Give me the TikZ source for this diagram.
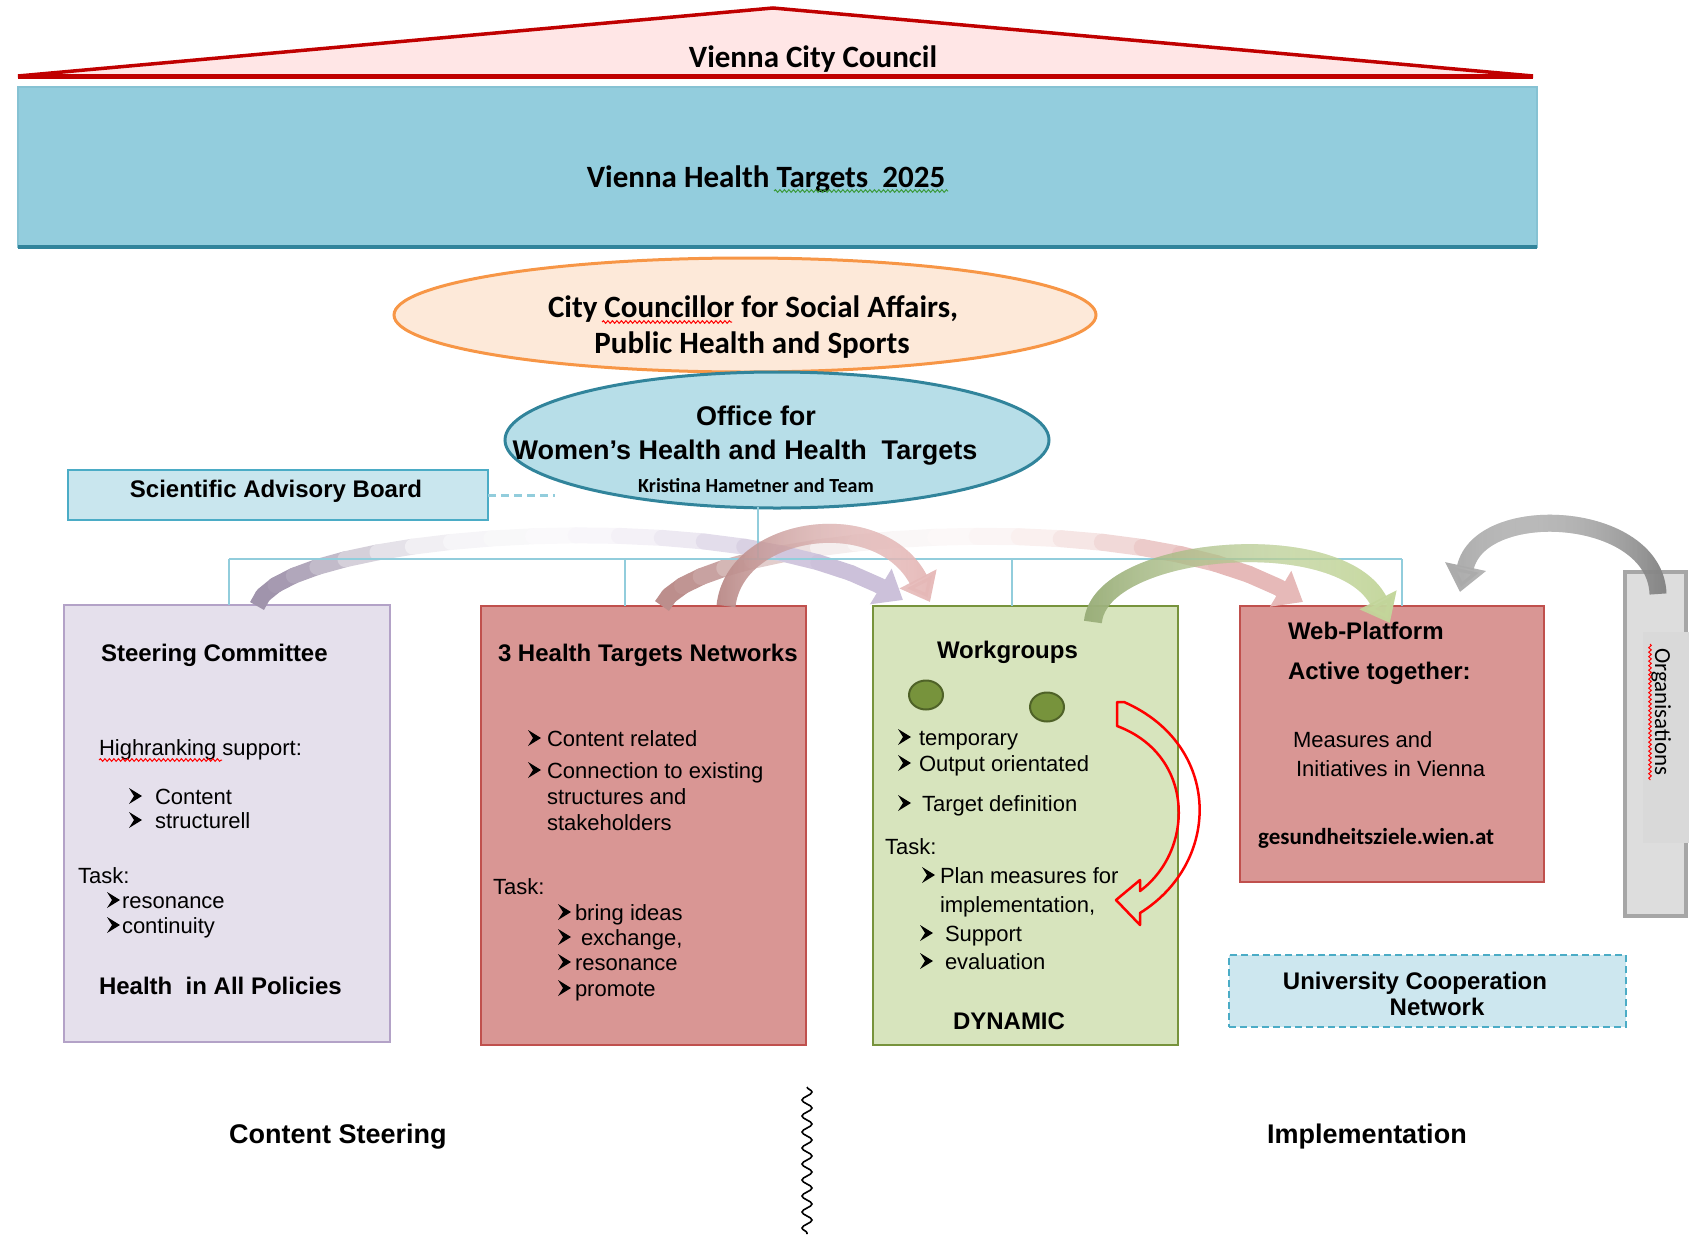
\documentclass[tikz,border=0pt]{standalone}
\usepackage{fontspec}
\setmainfont{Liberation Sans}
\newfontfamily\calfont{Carlito}
\usetikzlibrary{arrows.meta,shapes.geometric,decorations.pathmorphing,fadings}

\definecolor{roofred}{HTML}{C00000}
\definecolor{roofpink}{HTML}{FFE6E6}
\definecolor{vhtfill}{HTML}{93CDDD}
\definecolor{vhtline}{HTML}{86C2D3}
\definecolor{tealdark}{HTML}{31849B}
\definecolor{peach}{HTML}{FDE9D9}
\definecolor{orangeS}{HTML}{F79646}
\definecolor{offfill}{HTML}{B7DEE8}
\definecolor{sabfill}{HTML}{C9E6EE}
\definecolor{sabline}{HTML}{4BACC6}
\definecolor{busblue}{HTML}{92CDDC}
\definecolor{scfill}{HTML}{E5E0EC}
\definecolor{scline}{HTML}{B3A2C7}
\definecolor{htfill}{HTML}{D99694}
\definecolor{htline}{HTML}{C0504D}
\definecolor{wgfill}{HTML}{D7E4BD}
\definecolor{wgline}{HTML}{77933C}
\definecolor{dotfill}{HTML}{77933C}
\definecolor{dotline}{HTML}{4F6228}
\definecolor{ucfill}{HTML}{CDE7EF}
\definecolor{orgfill}{HTML}{DDDDDD}
\definecolor{orgline}{HTML}{A6A6A6}
\definecolor{orgpatch}{HTML}{D9D9D9}
\definecolor{purpT}{HTML}{A094AC}
\definecolor{purpH}{HTML}{CCC1DA}
\definecolor{pinkT}{HTML}{BC8E8C}
\definecolor{pinkH}{HTML}{E6B9B8}
\definecolor{greenT}{HTML}{9BAF7B}
\definecolor{greenH}{HTML}{C3D69B}
\definecolor{grayT}{HTML}{858585}
\definecolor{grayH}{HTML}{ABABAB}
\definecolor{spellgreen}{HTML}{3A9A3A}

\tikzfading[name=tailfadeB, left color=transparent!0, right color=transparent!100]
\tikzfading[name=headfadeB, left color=transparent!100, right color=transparent!0]

\newcommand{\fsR}{\fontsize{22}{26}\selectfont}
\newcommand{\fsB}{\fontsize{24}{28}\selectfont\bfseries}
\newcommand{\fsL}{\fontsize{27}{32}\selectfont\bfseries}
\newcommand{\fsC}{\calfont\fontsize{31}{37}\selectfont\bfseries}
\newcommand{\arrbul}[2]{\fill[black] ({#1},{#2-8}) -- ({#1+13},{#2}) -- ({#1},{#2+8}) -- ({#1+5},{#2}) -- cycle;}

% ribbon arrow whose colour fades out in the middle
\newcommand{\gradarc}[7]{%
  \path (#1) .. controls #2 and #3 .. (#4)
    coordinate[pos=0.05] (g1) coordinate[pos=0.10] (g2) coordinate[pos=0.15] (g3)
    coordinate[pos=0.20] (g4) coordinate[pos=0.25] (g5) coordinate[pos=0.30] (g6)
    coordinate[pos=0.35] (g7) coordinate[pos=0.40] (g8) coordinate[pos=0.45] (g9)
    coordinate[pos=0.50] (g10) coordinate[pos=0.55] (g11) coordinate[pos=0.60] (g12)
    coordinate[pos=0.65] (g13) coordinate[pos=0.70] (g14) coordinate[pos=0.75] (g15)
    coordinate[pos=0.80] (g16) coordinate[pos=0.85] (g17) coordinate[pos=0.90] (g18)
    coordinate[pos=0.95] (g19);
  \draw[line width=#7, color=#5] (#1) -- (g1);
  \foreach \k/\kn/\cc in {1/2/#5!100!white, 2/3/#5!94!white, 3/4/#5!82!white,
      4/5/#5!64!white, 5/6/#5!44!white, 6/7/#5!27!white, 7/8/#5!15!white,
      8/9/#5!9!white, 9/10/#5!7!white, 10/11/#6!10!white, 11/12/#6!14!white,
      12/13/#6!22!white, 13/14/#6!36!white, 14/15/#6!55!white, 15/16/#6!75!white,
      16/17/#6!90!white, 17/18/#6!100!white, 18/19/#6!100!white}
    {\draw[line width=#7, line cap=round, color=\cc] (g\k) -- (g\kn);}
  \draw[line width=#7, color=#6, tipA] (g19) -- (#4);
}

\begin{document}
\begin{tikzpicture}[x=1pt, y=-1pt,
  bd/.style={inner sep=0, outer sep=0, anchor=base west, font=\fsR},
  hd/.style={inner sep=0, outer sep=0, anchor=base west, font=\fsB},
  panel/.style={draw, line width=2.5, inner sep=0, outer sep=0},
  bus/.style={draw=busblue, line width=1.5},
  ribbon/.style={line width=#1},
  tipA/.style={-{Triangle[length=26pt,width=40pt]}},
  spell/.style={line width=1, decorate, decoration={snake, amplitude=1.3, segment length=4.5}},
]
\useasboundingbox (0,0) rectangle (1699,1234);

% roof
\draw[draw=roofred, fill=roofpink, line width=3.5, line join=miter] (18,76) -- (773,8) -- (1533,76) -- cycle;
\draw[roofred, line width=5] (18,76) -- (1533,76);
\node[inner sep=0, anchor=base, font=\fsC] (vcc) at (813,67) {Vienna City Council};

% big blue rectangle
\node[panel, draw=vhtline, line width=1.5, fill=vhtfill, minimum width=1519, minimum height=160] (vht) at (777.5,167) {};
\draw[tealdark, line width=4] (vht.south west) -- (vht.south east);
\node[inner sep=0, anchor=base, font=\fsC] (vhtt) at (766,187) {Vienna Health Targets\ \ 2025};
\draw[spellgreen, spell] (774,191) -- (948,191);

% councillor ellipse
\node[ellipse, draw=orangeS, fill=peach, line width=3, minimum width=702, minimum height=114, inner sep=0] (ccs) at (745,315) {};
\node[inner sep=0, anchor=base, font=\fsC] (ccs1) at (753,317) {City Councillor for Social Affairs,};
\node[inner sep=0, anchor=base, font=\fsC] (ccs2) at (752,353) {Public Health and Sports};
\draw[red, spell] (602,322) -- (732,322);

% bus lines
\coordinate (ofb) at (758,507);
\coordinate (hub) at (758,559);
\coordinate (b1) at (229,559);
\coordinate (b2) at (625,559);
\coordinate (b3) at (1012,559);
\coordinate (b4) at (1402,559);

% office ellipse
\node[ellipse, draw=tealdark, fill=offfill, line width=3, minimum width=544, minimum height=136, inner sep=0] (office) at (777,440) {};
\node[inner sep=0, anchor=base, font=\fsL] (of1) at (756,425) {Office for};
\node[inner sep=0, anchor=base, font=\fsL] (of2) at (745,459) {Women’s Health and Health\ \ Targets};
\node[inner sep=0, anchor=base, font=\calfont\fontsize{20}{24}\selectfont\bfseries] (of3) at (756,492) {Kristina Hametner and Team};

% scientific advisory board
\node[panel, draw=sabline, fill=sabfill, minimum width=420, minimum height=50] (sab) at (278,495) {};
\node[inner sep=0, anchor=base, font=\fsB] (sabT) at (276,497) {Scientific Advisory Board};
\coordinate (sabE) at (555,495);
\draw[busblue, line width=3, dash pattern=on 8pt off 5pt] (sab.east) -- (sabE);

% boxes
\node[panel, draw=scline, fill=scfill, minimum width=326, minimum height=437] (sc) at (227,823.5) {};
\node[panel, draw=htline, fill=htfill, line width=1.5, minimum width=325, minimum height=439] (ht) at (643.5,825.5) {};
\node[panel, draw=wgline, fill=wgfill, line width=1.5, minimum width=305, minimum height=439] (wg) at (1025.5,825.5) {};
\node[panel, draw=htline, fill=htfill, line width=1.5, minimum width=304, minimum height=276] (wp) at (1392,744) {};
\node[panel, draw=orgline, fill=orgfill, line width=3.5, minimum width=61, minimum height=344] (org) at (1655.5,744) {};
\fill[orgpatch] (1643,632) rectangle (1689,843);
\node[panel, draw=sabline, fill=ucfill, dash pattern=on 7pt off 4pt, minimum width=397, minimum height=72] (uc) at (1427.5,991) {};

% Steering Committee text
\node[hd] (scT) at (101,661) {Steering Committee};
\node[bd] (scH) at (99,755) {Highranking support:};
\draw[red, spell] (99,760) -- (222,760);
\arrbul{129}{796} \node[bd] (sc1) at (155,804) {Content};
\arrbul{129}{820} \node[bd] (sc2) at (155,828) {structurell};
\node[bd] (scK) at (78,883) {Task:};
\arrbul{107}{900} \node[bd] (sc3) at (122,908) {resonance};
\arrbul{107}{925} \node[bd] (sc4) at (122,933) {continuity};
\node[hd] (scP) at (99,994) {Health\ \ in All Policies};

% 3 Health Targets Networks text
\node[hd] (htT) at (498,661) {3 Health Targets Networks};
\arrbul{528}{738} \node[bd] (ht1) at (547,746) {Content related};
\arrbul{528}{770} \node[bd] (ht2) at (547,778) {Connection to existing};
\node[bd] (ht2b) at (547,804) {structures and};
\node[bd] (ht2c) at (547,830) {stakeholders};
\node[bd] (htK) at (493,894) {Task:};
\arrbul{558}{912} \node[bd] (ht3) at (575,920) {bring ideas};
\arrbul{558}{937} \node[bd] (ht4) at (581,945) {exchange,};
\arrbul{558}{962} \node[bd] (ht5) at (575,970) {resonance};
\arrbul{558}{988} \node[bd] (ht6) at (575,996) {promote};

% Workgroups text
\node[hd] (wgT) at (937,658) {Workgroups};
\node[ellipse, draw=dotline, fill=dotfill, line width=2, minimum width=34, minimum height=29, inner sep=0] (dot1) at (926,695) {};
\node[ellipse, draw=dotline, fill=dotfill, line width=2, minimum width=34, minimum height=29, inner sep=0] (dot2) at (1047,707) {};
\arrbul{898}{737} \node[bd] (wg1) at (919,745) {temporary};
\arrbul{898}{763} \node[bd] (wg2) at (919,771) {Output orientated};
\arrbul{898}{803} \node[bd] (wg3) at (922,811) {Target definition};
\node[bd] (wgK) at (885,854) {Task:};
\arrbul{922}{875} \node[bd] (wg4) at (940,883) {Plan measures for};
\node[bd] (wg4b) at (940,912) {implementation,};
\arrbul{920}{933} \node[bd] (wg5) at (945,941) {Support};
\arrbul{920}{961} \node[bd] (wg6) at (945,969) {evaluation};
\node[hd, anchor=base] (wgD) at (1009,1029) {DYNAMIC};

% red cycle arrow
\draw[red, line width=2.5, line join=round]
  (1117,702) -- (1124,702) .. controls (1222,745) and (1222,862) .. (1140,913)
  -- (1140,925) -- (1116,900) -- (1140,880) -- (1140,891)
  .. controls (1195,850) and (1195,755) .. (1117,726) -- cycle;

% Web-Platform text
\node[hd] (wpT) at (1288,639) {Web-Platform};
\node[hd] (wpA) at (1288,679) {Active together:};
\node[bd] (wpM) at (1293,747) {Measures and};
\node[bd] (wpI) at (1296,776) {Initiatives in Vienna};
\node[inner sep=0, anchor=base west, font=\calfont\fontsize{23}{27}\selectfont\bfseries] (wpU) at (1258,844) {gesundheitsziele.wien.at};

% Organisations
\node[inner sep=0, rotate=-90, font=\calfont\fontsize{23}{27}\selectfont] (orgT) at (1661,712) {Organisations};
\draw[red, spell] (1650,644) -- (1650,780);

% University Cooperation Network
\node[hd, anchor=base] (uc1) at (1415,989) {University Cooperation};
\node[hd, anchor=base] (uc2) at (1437,1015) {Network};

% ribbon arrows
\coordinate (pA) at (257,606);  \coordinate (pB) at (903,600);
\coordinate (rA) at (662,606);  \coordinate (rB) at (1303,602);
\coordinate (sA) at (726,606);  \coordinate (sB) at (930,602);
\coordinate (gA) at (1093,622); \coordinate (gB) at (1390,623);
\coordinate (kA) at (1658,594); \coordinate (kB) at (1460,592);

\gradarc{rA}{(690,535)}{(1150,495)}{rB}{pinkT}{pinkH}{17}
\gradarc{pA}{(275,532)}{(760,496)}{pB}{purpT}{purpH}{16}

% bus lines (thin, drawn over the faint ribbon parts)
\draw[bus] (ofb) -- (hub);
\draw[bus] (b1) -- (b4);
\draw[bus] (b1) -- (b1 |- sc.north);
\draw[bus] (b2) -- (b2 |- ht.north);
\draw[bus] (b3) -- (b3 |- wg.north);
\draw[bus] (b4) -- (b4 |- wp.north);

\draw[ribbon=19, color=pinkT, path fading=tailfadeB, tipA] (sA) .. controls (735,525) and (880,505) .. (sB);
\draw[ribbon=19, color=pinkH, path fading=headfadeB, tipA] (sA) .. controls (735,525) and (880,505) .. (sB);

\draw[ribbon=18, color=greenT, path fading=tailfadeB, tipA] (gA) .. controls (1100,545) and (1340,525) .. (gB);
\draw[ribbon=18, color=greenH, path fading=headfadeB, tipA] (gA) .. controls (1100,545) and (1340,525) .. (gB);

\draw[ribbon=17, color=grayT, path fading=headfadeB, tipA] (kA) .. controls (1655,510) and (1480,500) .. (kB);
\draw[ribbon=17, color=grayH, path fading=tailfadeB, tipA] (kA) .. controls (1655,510) and (1480,500) .. (kB);

% bottom labels and wavy divider
\node[inner sep=0, anchor=base west, font=\fsL] (cs) at (229,1143) {Content Steering};
\node[inner sep=0, anchor=base west, font=\fsL] (im) at (1267,1143) {Implementation};
\coordinate (w1) at (807,1087);
\coordinate (w2) at (807,1234);
\draw[line width=1.6, decorate, decoration={snake, amplitude=5, segment length=16}] (w1) -- (w2);
\end{tikzpicture}
\end{document}
